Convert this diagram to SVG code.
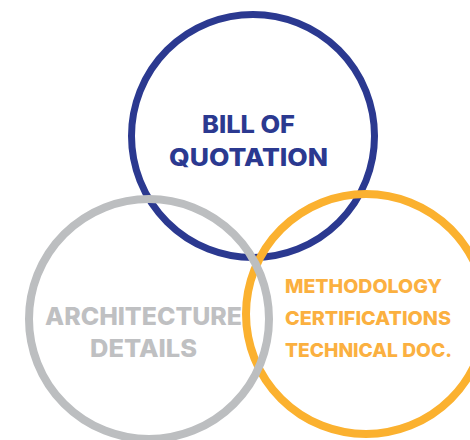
<svg xmlns="http://www.w3.org/2000/svg" width="470" height="440" viewBox="0 0 470 440">
<style>
.ring{fill:none}
.t{font-family:Inter,Lato,"Liberation Sans",sans-serif;font-weight:800}
</style>
<rect width="470" height="440" fill="#ffffff"/>
<g id="bill">
<circle class="ring" cx="253" cy="136" r="121.5" stroke="#2B3990" stroke-width="7"/>
</g>
<g id="methodology">
<circle class="ring" cx="366" cy="314" r="120" stroke="#FBB12F" stroke-width="8"/>
</g>
<g id="architecture">
<circle class="ring" cx="149" cy="319" r="120" stroke="#BCBEC0" stroke-width="8"/>
</g>
<g id="labels">
<text class="t" x="248.5" y="133" font-size="24" fill="#2B3990" text-anchor="middle" textLength="93" lengthAdjust="spacingAndGlyphs">BILL OF</text>
<text class="t" x="248.5" y="166" font-size="24" fill="#2B3990" text-anchor="middle" textLength="159" lengthAdjust="spacingAndGlyphs">QUOTATION</text>
<text class="t" x="143.5" y="325" font-size="24" fill="#BFC0C2" text-anchor="middle" textLength="197" lengthAdjust="spacingAndGlyphs">ARCHITECTURE</text>
<text class="t" x="143.5" y="357" font-size="24" fill="#BFC0C2" text-anchor="middle" textLength="107" lengthAdjust="spacingAndGlyphs">DETAILS</text>
<text class="t" x="285" y="293" font-size="19" fill="#FBB040" textLength="157" lengthAdjust="spacingAndGlyphs">METHODOLOGY</text>
<text class="t" x="285" y="325" font-size="19" fill="#FBB040" textLength="166" lengthAdjust="spacingAndGlyphs">CERTIFICATIONS</text>
<text class="t" x="285" y="357" font-size="19" fill="#FBB040" textLength="167" lengthAdjust="spacingAndGlyphs">TECHNICAL DOC.</text>
</g>
</svg>
